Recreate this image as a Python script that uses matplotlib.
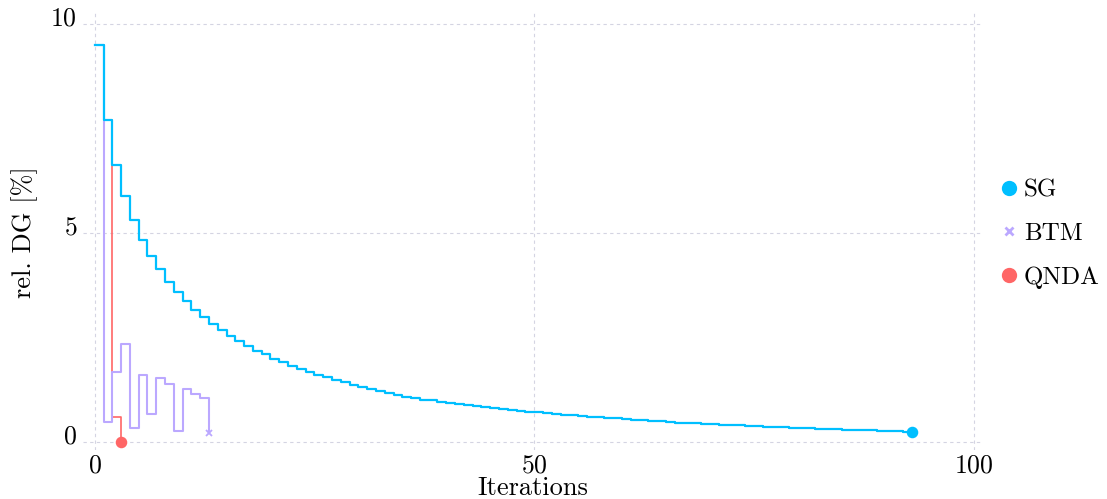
import numpy as np
import matplotlib
matplotlib.use("Agg")
import matplotlib.pyplot as plt
from matplotlib.lines import Line2D
from matplotlib.transforms import ScaledTranslation

plt.rcParams['font.family'] = ['cmr10', 'DejaVu Serif']
plt.rcParams['axes.formatter.use_mathtext'] = True
plt.rcParams['mathtext.fontset'] = 'cm'

# relative duality gap per iteration
sg_gap = [9.50, 7.70, 6.64, 5.89, 5.31, 4.84, 4.45, 4.14, 3.84, 3.59,
          3.37, 3.17, 2.99, 2.83, 2.68, 2.54, 2.42, 2.30, 2.19, 2.10,
          2.00, 1.91, 1.83, 1.75, 1.68, 1.61, 1.55, 1.48, 1.43, 1.37,
          1.32, 1.28, 1.23, 1.18, 1.13, 1.09, 1.05, 1.02, 1.00, 0.97,
          0.94, 0.92, 0.89, 0.87, 0.84, 0.82, 0.80, 0.78, 0.75, 0.73,
          0.71, 0.69, 0.68, 0.66, 0.64, 0.63, 0.61, 0.60, 0.58, 0.57,
          0.55, 0.54, 0.52, 0.51, 0.50, 0.48, 0.47, 0.46, 0.45, 0.44,
          0.43, 0.42, 0.41, 0.40, 0.39, 0.38, 0.37, 0.36, 0.355, 0.35,
          0.34, 0.33, 0.32, 0.315, 0.31, 0.30, 0.295, 0.29, 0.28, 0.275,
          0.27, 0.26, 0.255, 0.25]
btm_gap = [9.50, 0.49, 1.68, 2.36, 0.35, 1.61, 0.68, 1.54, 1.40, 0.27,
           1.28, 1.16, 1.06, 0.21]
qnda_gap = [9.50, 7.70, 0.61, 0.00]

labels = ["SG", "BTM", "QNDA"]
colors = ["#00BFFF", "#BBA8FF", "#FF6666"]
markers = ["o", "x", "o"]

fig = plt.figure(figsize=(11.07, 4.99), dpi=100)
ax = fig.add_axes([0.075, 0.098, 0.812, 0.875])

series = [sg_gap, btm_gap, qnda_gap]
zorders = [5, 4, 3]
widths = [1.6, 1.5, 1.2]
for ys, c, m, z, lw in zip(series, colors, markers, zorders, widths):
    xs = np.arange(len(ys))
    ax.plot(xs, ys, drawstyle="steps-post", color=c, lw=lw, zorder=z)
    ms = 7 if m == "o" else 5
    ax.plot(xs[-1], ys[-1], marker=m, color=c, ms=ms, mew=1.3, zorder=z + 0.5)

ax.set_xlim(-1.33, 100.95)
ax.set_ylim(-0.19, 10.26)
ax.set_xticks([0, 50, 100])
ax.set_yticks([0, 5, 10])
ax.grid(True, color="#D4D4E2", ls=(0, (3, 3)), lw=0.8)
ax.set_axisbelow(True)
for s in ax.spines.values():
    s.set_visible(False)
ax.tick_params(length=0, labelsize=18.5)
ax.tick_params(axis="x", pad=3.0)
ax.tick_params(axis="y", pad=4.3)

shift = ScaledTranslation(0, 0.08, fig.dpi_scale_trans)
for lab in ax.get_yticklabels():
    lab.set_transform(lab.get_transform() + shift)

ax.set_xlabel("Iterations", fontsize=19, labelpad=-1)
ax.set_ylabel("rel. DG [%]", fontsize=19, labelpad=9)

handles = [Line2D([], [], ls="none", marker=m, color=c,
                  ms=(9 if m == "o" else 6), mew=2)
           for m, c in zip(markers, colors)]
ax.legend(handles, labels, loc="center left", bbox_to_anchor=(1.0, 0.495),
          borderaxespad=0.18, frameon=False, fontsize=18, handletextpad=0.1,
          labelspacing=0.84, handlelength=1.0)

fig.savefig("out.png", dpi=100)
